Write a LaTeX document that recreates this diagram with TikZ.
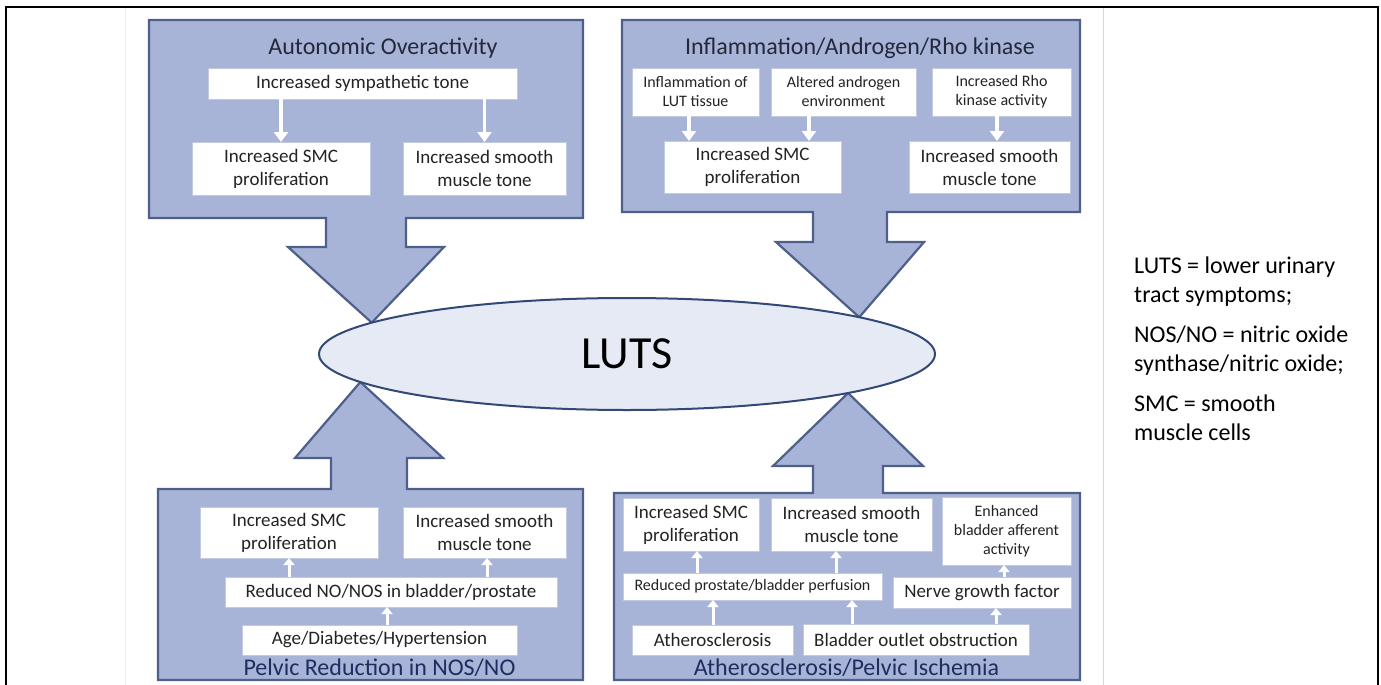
\documentclass[tikz,border=0pt]{standalone}
\usepackage{fontspec}
\setmainfont{Carlito}
\usetikzlibrary{arrows.meta,shapes.geometric,backgrounds}
\definecolor{panelfill}{RGB}{167,180,215}
\definecolor{panelline}{RGB}{78,95,140}
\definecolor{ellfill}{RGB}{229,234,244}
\definecolor{ellline}{RGB}{50,72,118}
\definecolor{titletop}{RGB}{35,40,58}
\definecolor{titlebot}{RGB}{30,45,95}
\definecolor{boxtext}{RGB}{35,35,35}
\definecolor{boxline}{RGB}{195,202,222}
\tikzset{
  panel/.style={fill=panelfill, draw=panelline, line width=2.2pt, line join=miter},
  wbox/.style={rectangle, fill=white, draw=boxline, line width=0.6pt, inner sep=0pt, outer sep=0pt,
    align=center, text=boxtext, font=\fontsize{19}{23}\selectfont},
  sbox/.style={wbox, font=\fontsize{16}{19}\selectfont},
  ptitle/.style={anchor=base, inner sep=0pt, font=\fontsize{24}{29}\selectfont},
  warrow/.style={draw=white, line width=3.5pt, -{Triangle[width=14pt,length=10pt]}},
  warrows/.style={draw=white, line width=3pt, -{Triangle[width=11pt,length=7pt]}},
  legend/.style={anchor=base west, inner sep=0pt, font=\fontsize{24}{29}\selectfont, text=black},
}
\begin{document}
\begin{tikzpicture}[x=1pt,y=-1pt]
\useasboundingbox (0,0) rectangle (1381,685);

% central ellipse
\node[ellipse, minimum width=616pt, minimum height=112pt, fill=ellfill, draw=ellline,
      line width=2pt, inner sep=0pt, outer sep=0pt, font=\fontsize{46}{50}\selectfont] (luts) at (627,354) {LUTS};

\begin{scope}[on background layer]
  % frame and dividers
  \draw[line width=1.5pt] (6,690) -- (6,7) -- (1378,7) -- (1378,690);
  \draw[gray!12, line width=0.8pt] (125,8) -- (125,690);
  \draw[gray!30, line width=1pt] (1103,8) -- (1103,690);
  % panels with their big arrows
  \draw[panel] (149,20) -- (583,20) -- (583,218) -- (406,218) -- (406,247) -- (444,247)
      -- (luts.173.4) -- (288,247) -- (326,247) -- (326,218) -- (149,218) -- cycle;
  \draw[panel] (622,20) -- (1080,20) -- (1080,212) -- (887,212) -- (887,242) -- (924,242)
      -- (luts.9.9) -- (776,242) -- (813,242) -- (813,212) -- (622,212) -- cycle;
  \draw[panel] (158,680) -- (583,680) -- (583,489) -- (407,489) -- (407,458) -- (443,458)
      -- (luts.186.6) -- (295,458) -- (331,458) -- (331,489) -- (158,489) -- cycle;
  \draw[panel] (614,680) -- (1080,680) -- (1080,493) -- (883,493) -- (883,466) -- (923,466)
      -- (luts.350) -- (773,466) -- (813,466) -- (813,493) -- (614,493) -- cycle;
\end{scope}

% ---- top left: Autonomic Overactivity
\node[ptitle, text=titletop] (tlT) at (383,55) {Autonomic Overactivity};
\node[wbox, minimum width=309pt, minimum height=31pt] (sym) at (362.5,83.5) {Increased sympathetic tone};
\node[wbox, minimum width=178pt, minimum height=53pt] (tlSMC) at (281,168.5) {Increased SMC\\proliferation};
\node[wbox, minimum width=163pt, minimum height=53pt] (tlSM) at (484.5,168.5) {Increased smooth\\muscle tone};
\draw[warrow] (sym.south -| tlSMC.north) -- (tlSMC.north);
\draw[warrow] (sym.south -| tlSM.north) -- (tlSM.north);

% ---- top right: Inflammation/Androgen/Rho kinase
\node[ptitle, text=titletop] (trT) at (860,55) {Inflammation/Androgen/Rho kinase};
\node[sbox, minimum width=127pt, minimum height=48pt] (tr1) at (695.5,92) {Inflammation of\\LUT tissue};
\node[sbox, minimum width=145pt, minimum height=48pt] (tr2) at (843.5,92) {Altered androgen\\environment};
\node[sbox, minimum width=139pt, minimum height=48pt] (tr3) at (1001.5,92) {Increased Rho\\kinase activity};
\node[wbox, minimum width=177pt, minimum height=52pt] (trSMC) at (752.5,167) {Increased SMC\\proliferation};
\node[wbox, minimum width=161pt, minimum height=52pt] (trSM) at (989.5,167) {Increased smooth\\muscle tone};
\draw[warrow] ([xshift=-6.5pt]tr1.south) -- ([xshift=-6.5pt]tr1.south |- trSMC.north);
\draw[warrow] ([xshift=-34.5pt]tr2.south) -- ([xshift=-34.5pt]tr2.south |- trSMC.north);
\draw[warrow] ([xshift=-4.5pt]tr3.south) -- ([xshift=-4.5pt]tr3.south |- trSM.north);

% ---- bottom left: Pelvic Reduction in NOS/NO
\node[wbox, minimum width=178pt, minimum height=51pt] (blSMC) at (289,532.5) {Increased SMC\\proliferation};
\node[wbox, minimum width=163pt, minimum height=51pt] (blSM) at (484.5,532.5) {Increased smooth\\muscle tone};
\node[wbox, minimum width=332pt, minimum height=30pt] (blRed) at (391,592) {Reduced NO/NOS in bladder/prostate};
\node[wbox, minimum width=275pt, minimum height=30pt] (blAge) at (379.5,640) {Age/Diabetes/Hypertension};
\node[ptitle, text=titlebot] (blT) at (379.5,675) {Pelvic Reduction in NOS/NO};
\draw[warrows] (blRed.north -| blSMC.south) -- (blSMC.south);
\draw[warrows] ([xshift=2.5pt]blRed.north -| blSM.south) -- ([xshift=2.5pt]blSM.south);
\draw[warrows] ([xshift=7.5pt]blAge.north) -- ([xshift=7.5pt]blAge.north |- blRed.south);

% ---- bottom right: Atherosclerosis/Pelvic Ischemia
\node[wbox, minimum width=136pt, minimum height=53pt] (brSMC) at (691,524.5) {Increased SMC\\proliferation};
\node[wbox, minimum width=161pt, minimum height=53pt] (brSM) at (851.5,524.5) {Increased smooth\\muscle tone};
\node[sbox, minimum width=129pt, minimum height=68pt] (brEnh) at (1006.5,531) {Enhanced\\bladder afferent\\activity};
\node[sbox, minimum width=259pt, minimum height=27pt] (brRed) at (752.5,586.5) {Reduced prostate/bladder perfusion};
\node[wbox, minimum width=178pt, minimum height=31pt] (brNGF) at (982,592.5) {Nerve growth factor};
\node[wbox, minimum width=161pt, minimum height=30pt] (brAth) at (712.5,640) {Atherosclerosis};
\node[wbox, minimum width=226pt, minimum height=31pt] (brBOO) at (916,639.5) {Bladder outlet obstruction};
\node[ptitle, text=titlebot] (brT) at (846.5,675) {Atherosclerosis/Pelvic Ischemia};
\draw[warrows] ([xshift=6pt]brSMC.south |- brRed.north) -- ([xshift=6pt]brSMC.south);
\draw[warrows] ([xshift=-15.5pt]brSM.south |- brRed.north) -- ([xshift=-15.5pt]brSM.south);
\draw[warrows] ([xshift=-2.5pt]brEnh.south |- brNGF.north) -- ([xshift=-2.5pt]brEnh.south);
\draw[warrows] ([xshift=0.5pt]brAth.north) -- ([xshift=0.5pt]brAth.north |- brRed.south);
\draw[warrows] ([xshift=-64pt]brBOO.north) -- ([xshift=-64pt]brBOO.north |- brRed.south);
\draw[warrows] ([xshift=80pt]brBOO.north) -- ([xshift=80pt]brBOO.north |- brNGF.south);

% ---- legend
\node[legend] (lg1) at (1134,273) {LUTS = lower urinary};
\node[legend] (lg2) at (1134,302) {tract symptoms;};
\node[legend] (lg3) at (1134,342) {NOS/NO = nitric oxide};
\node[legend] (lg4) at (1134,371) {synthase/nitric oxide;};
\node[legend] (lg5) at (1134,411) {SMC = smooth};
\node[legend] (lg6) at (1134,440) {muscle cells};
\end{tikzpicture}
\end{document}
